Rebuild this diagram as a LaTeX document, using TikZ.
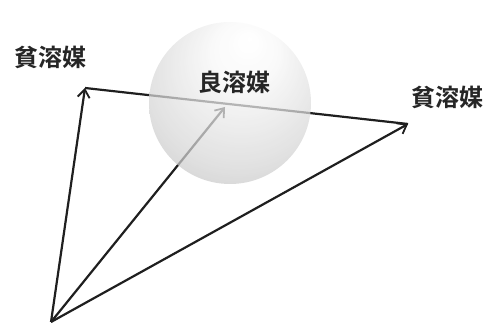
\documentclass[tikz,border=0pt]{standalone}
\usepackage{fontspec}
\newfontfamily\cjk{Noto Sans CJK JP Bold}
\usetikzlibrary{arrows.meta}
\pgfdeclareradialshading{sph}{\pgfpoint{6bp}{20bp}}{color(0bp)=(white); color(10bp)=(white!97!black); color(28bp)=(white!84!black); color(42bp)=(white!70!black); color(50bp)=(white!64!black)}
\tikzset{
  vec/.style={line width=2.2pt, draw=black!88, -{Straight Barb[length=8pt,width=12pt,line width=1.8pt]}},
  edge/.style={line width=2.2pt, draw=black!88},
  lbl/.style={font=\cjk\fontsize{24}{24}\selectfont, text=black!85, inner sep=0pt}
}
\begin{document}
\begin{tikzpicture}[x=1pt,y=1pt]
\useasboundingbox (0,0) rectangle (489,328);
\coordinate (O) at (51,6);
\coordinate (L) at (85,240);
\coordinate (R) at (408,204);
\coordinate (M) at (225,221);
\draw[edge] (L) -- (R);
\draw[vec] (O) -- (L);
\draw[vec] (O) -- (M);
\draw[vec] (O) -- (R);
\node[circle, minimum size=162pt, inner sep=0pt, shading=sph, fill opacity=0.72] (ball) at (230,225) {};
\node[lbl] (good) at (234,246) {良溶媒};
\node[lbl] (poorL) at (50,271) {貧溶媒};
\node[lbl] (poorR) at (447,231) {貧溶媒};
\end{tikzpicture}
\end{document}
